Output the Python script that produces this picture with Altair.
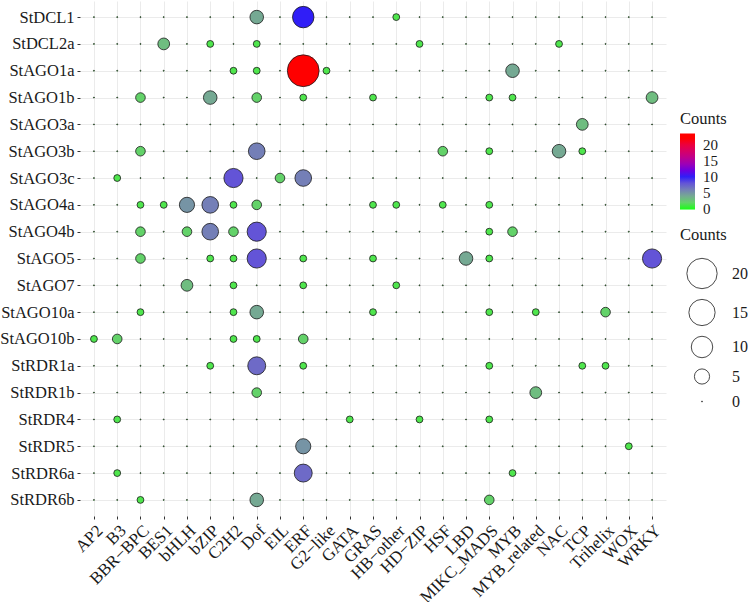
import altair as alt
import pandas as pd

# Transcription-factor families (columns) and small-RNA pathway genes (rows)
families = ["AP2", "B3", "BBR\u2212BPC", "BES1", "bHLH", "bZIP", "C2H2", "Dof", "EIL", "ERF",
            "G2\u2212like", "GATA", "GRAS", "HB\u2212other", "HD\u2212ZIP", "HSF", "LBD",
            "MIKC_MADS", "MYB", "MYB_related", "NAC", "TCP", "Trihelix", "WOX", "WRKY"]

genes = ["StDCL1", "StDCL2a", "StAGO1a", "StAGO1b", "StAGO3a", "StAGO3b", "StAGO3c",
         "StAGO4a", "StAGO4b", "StAGO5", "StAGO7", "StAGO10a", "StAGO10b", "StRDR1a",
         "StRDR1b", "StRDR4", "StRDR5", "StRDR6a", "StRDR6b"]

# Binding-site counts, one list per gene, in the order of `families`
counts = {
    "StDCL1":   [0, 0, 0, 0, 0, 0, 0, 4, 0, 10, 0, 0, 0, 1, 0, 0, 0, 0, 0, 0, 0, 0, 0, 0, 0],
    "StDCL2a":  [0, 0, 0, 3, 0, 1, 0, 1, 0, 0, 0, 0, 0, 0, 1, 0, 0, 0, 0, 0, 1, 0, 0, 0, 0],
    "StAGO1a":  [0, 0, 0, 0, 0, 0, 1, 1, 0, 22, 1, 0, 0, 0, 0, 0, 0, 0, 4, 0, 0, 0, 0, 0, 0],
    "StAGO1b":  [0, 0, 2, 0, 0, 4, 0, 2, 0, 1, 0, 0, 1, 0, 0, 0, 0, 1, 1, 0, 0, 0, 0, 0, 3],
    "StAGO3a":  [0, 0, 0, 0, 0, 0, 0, 0, 0, 0, 0, 0, 0, 0, 0, 0, 0, 0, 0, 0, 0, 3, 0, 0, 0],
    "StAGO3b":  [0, 0, 2, 0, 0, 0, 0, 6, 0, 0, 0, 0, 0, 0, 0, 2, 0, 1, 0, 0, 4, 1, 0, 0, 0],
    "StAGO3c":  [0, 1, 0, 0, 0, 0, 8, 0, 2, 6, 0, 0, 0, 0, 0, 0, 0, 0, 0, 0, 0, 0, 0, 0, 0],
    "StAGO4a":  [0, 0, 1, 1, 5, 6, 1, 2, 0, 0, 0, 0, 1, 1, 0, 1, 0, 1, 0, 0, 0, 0, 0, 0, 0],
    "StAGO4b":  [0, 0, 2, 0, 2, 6, 2, 8, 0, 0, 0, 0, 0, 0, 0, 0, 0, 1, 2, 0, 0, 0, 0, 0, 0],
    "StAGO5":   [0, 0, 2, 0, 0, 1, 1, 8, 0, 1, 0, 0, 1, 0, 0, 0, 4, 1, 0, 0, 0, 0, 0, 0, 8],
    "StAGO7":   [0, 0, 0, 0, 3, 0, 1, 0, 0, 1, 0, 0, 0, 1, 0, 0, 0, 0, 0, 0, 0, 0, 0, 0, 0],
    "StAGO10a": [0, 0, 1, 0, 0, 0, 1, 4, 0, 0, 0, 0, 1, 0, 0, 0, 0, 1, 0, 1, 0, 0, 2, 0, 0],
    "StAGO10b": [1, 2, 0, 0, 0, 0, 1, 1, 0, 2, 0, 0, 0, 0, 0, 0, 0, 0, 0, 0, 0, 0, 0, 0, 0],
    "StRDR1a":  [0, 0, 0, 0, 0, 1, 0, 7, 0, 1, 0, 0, 0, 0, 0, 0, 0, 1, 0, 0, 0, 1, 1, 0, 0],
    "StRDR1b":  [0, 0, 0, 0, 0, 0, 0, 2, 0, 0, 0, 0, 0, 0, 0, 0, 0, 0, 0, 3, 0, 0, 0, 0, 0],
    "StRDR4":   [0, 1, 0, 0, 0, 0, 0, 0, 0, 0, 0, 1, 0, 0, 1, 0, 0, 1, 0, 0, 0, 0, 0, 0, 0],
    "StRDR5":   [0, 0, 0, 0, 0, 0, 0, 0, 0, 5, 0, 0, 0, 0, 0, 0, 0, 0, 0, 0, 0, 0, 0, 1, 0],
    "StRDR6a":  [0, 1, 0, 0, 0, 0, 0, 0, 0, 7, 0, 0, 0, 0, 0, 0, 0, 0, 1, 0, 0, 0, 0, 0, 0],
    "StRDR6b":  [0, 0, 1, 0, 0, 0, 0, 4, 0, 0, 0, 0, 0, 0, 0, 0, 0, 2, 0, 0, 0, 0, 0, 0, 0],
}

# Colour ramp stops: green -> blue -> red (Lab interpolation)
color_domain = [-0.2, 10.5, 22, 23.5]
color_range = ["#00ff00", "#0000ff", "#ff0000", "#ff0000"]

rows = []
for g in genes:
    for fam, c in zip(families, counts[g]):
        rows.append({"Gene": g, "Family": fam, "Counts": c})
df = pd.DataFrame(rows).sort_values("Counts")

FONT = "Liberation Serif"

dots = alt.Chart(df).mark_circle(
    opacity=1, stroke="#1a1a1a", strokeWidth=0.8
).encode(
    x=alt.X("Family:N", sort=families, title=None,
            scale=alt.Scale(type="point", padding=0.6),
            axis=alt.Axis(labelAngle=315, labelAlign="right", labelBaseline="top",
                          labelPadding=3, tickSize=3, labelFontSize=17)),
    y=alt.Y("Gene:N", sort=genes, title=None,
            scale=alt.Scale(type="point", padding=0.6),
            axis=alt.Axis(labelPadding=3, tickSize=3, labelFontSize=16.5)),
    fill=alt.Fill("Counts:Q",
                  scale=alt.Scale(domain=color_domain, range=color_range, interpolate="lab"),
                  legend=alt.Legend(title="Counts", orient="none", legendX=600, legendY=110,
                                    direction="vertical", gradientLength=76,
                                    gradientThickness=15, values=[0, 5, 10, 15, 20],
                                    labelOverlap=False, gradientStrokeWidth=0,
                                    labelOffset=8, labelFontSize=15)),
    size=alt.Size("Counts:Q",
                  scale=alt.Scale(domain=[0, 22], range=[1, 1010]),
                  legend=alt.Legend(title="Counts", orient="none", legendX=600, legendY=226,
                                    values=[20, 15, 10, 5, 0], symbolFillColor="white",
                                    symbolStrokeColor="#1a1a1a", symbolStrokeWidth=0.8,
                                    symbolType="circle", symbolOffset=6, labelOffset=14,
                                    rowPadding=7, titlePadding=14)),
)

chart = dots.properties(
    width=586, height=515,
    autosize=alt.AutoSizeParams(type="none"),
    padding={"left": 80, "top": 1, "right": 86, "bottom": 86},
).configure_view(
    stroke=None
).configure_axis(
    labelFont=FONT, labelColor="#1a1a1a", domain=False,
    grid=True, gridColor="#ebebeb", gridWidth=1,
    tickColor="#333333", tickWidth=1,
).configure_legend(
    titleFont=FONT, titleFontSize=16.5, titleFontWeight="normal", titleColor="#1a1a1a",
    labelFont=FONT, labelFontSize=16, labelColor="#1a1a1a", titlePadding=6,
)

chart.save("out.html", embed_options={"renderer": "svg", "actions": False})
